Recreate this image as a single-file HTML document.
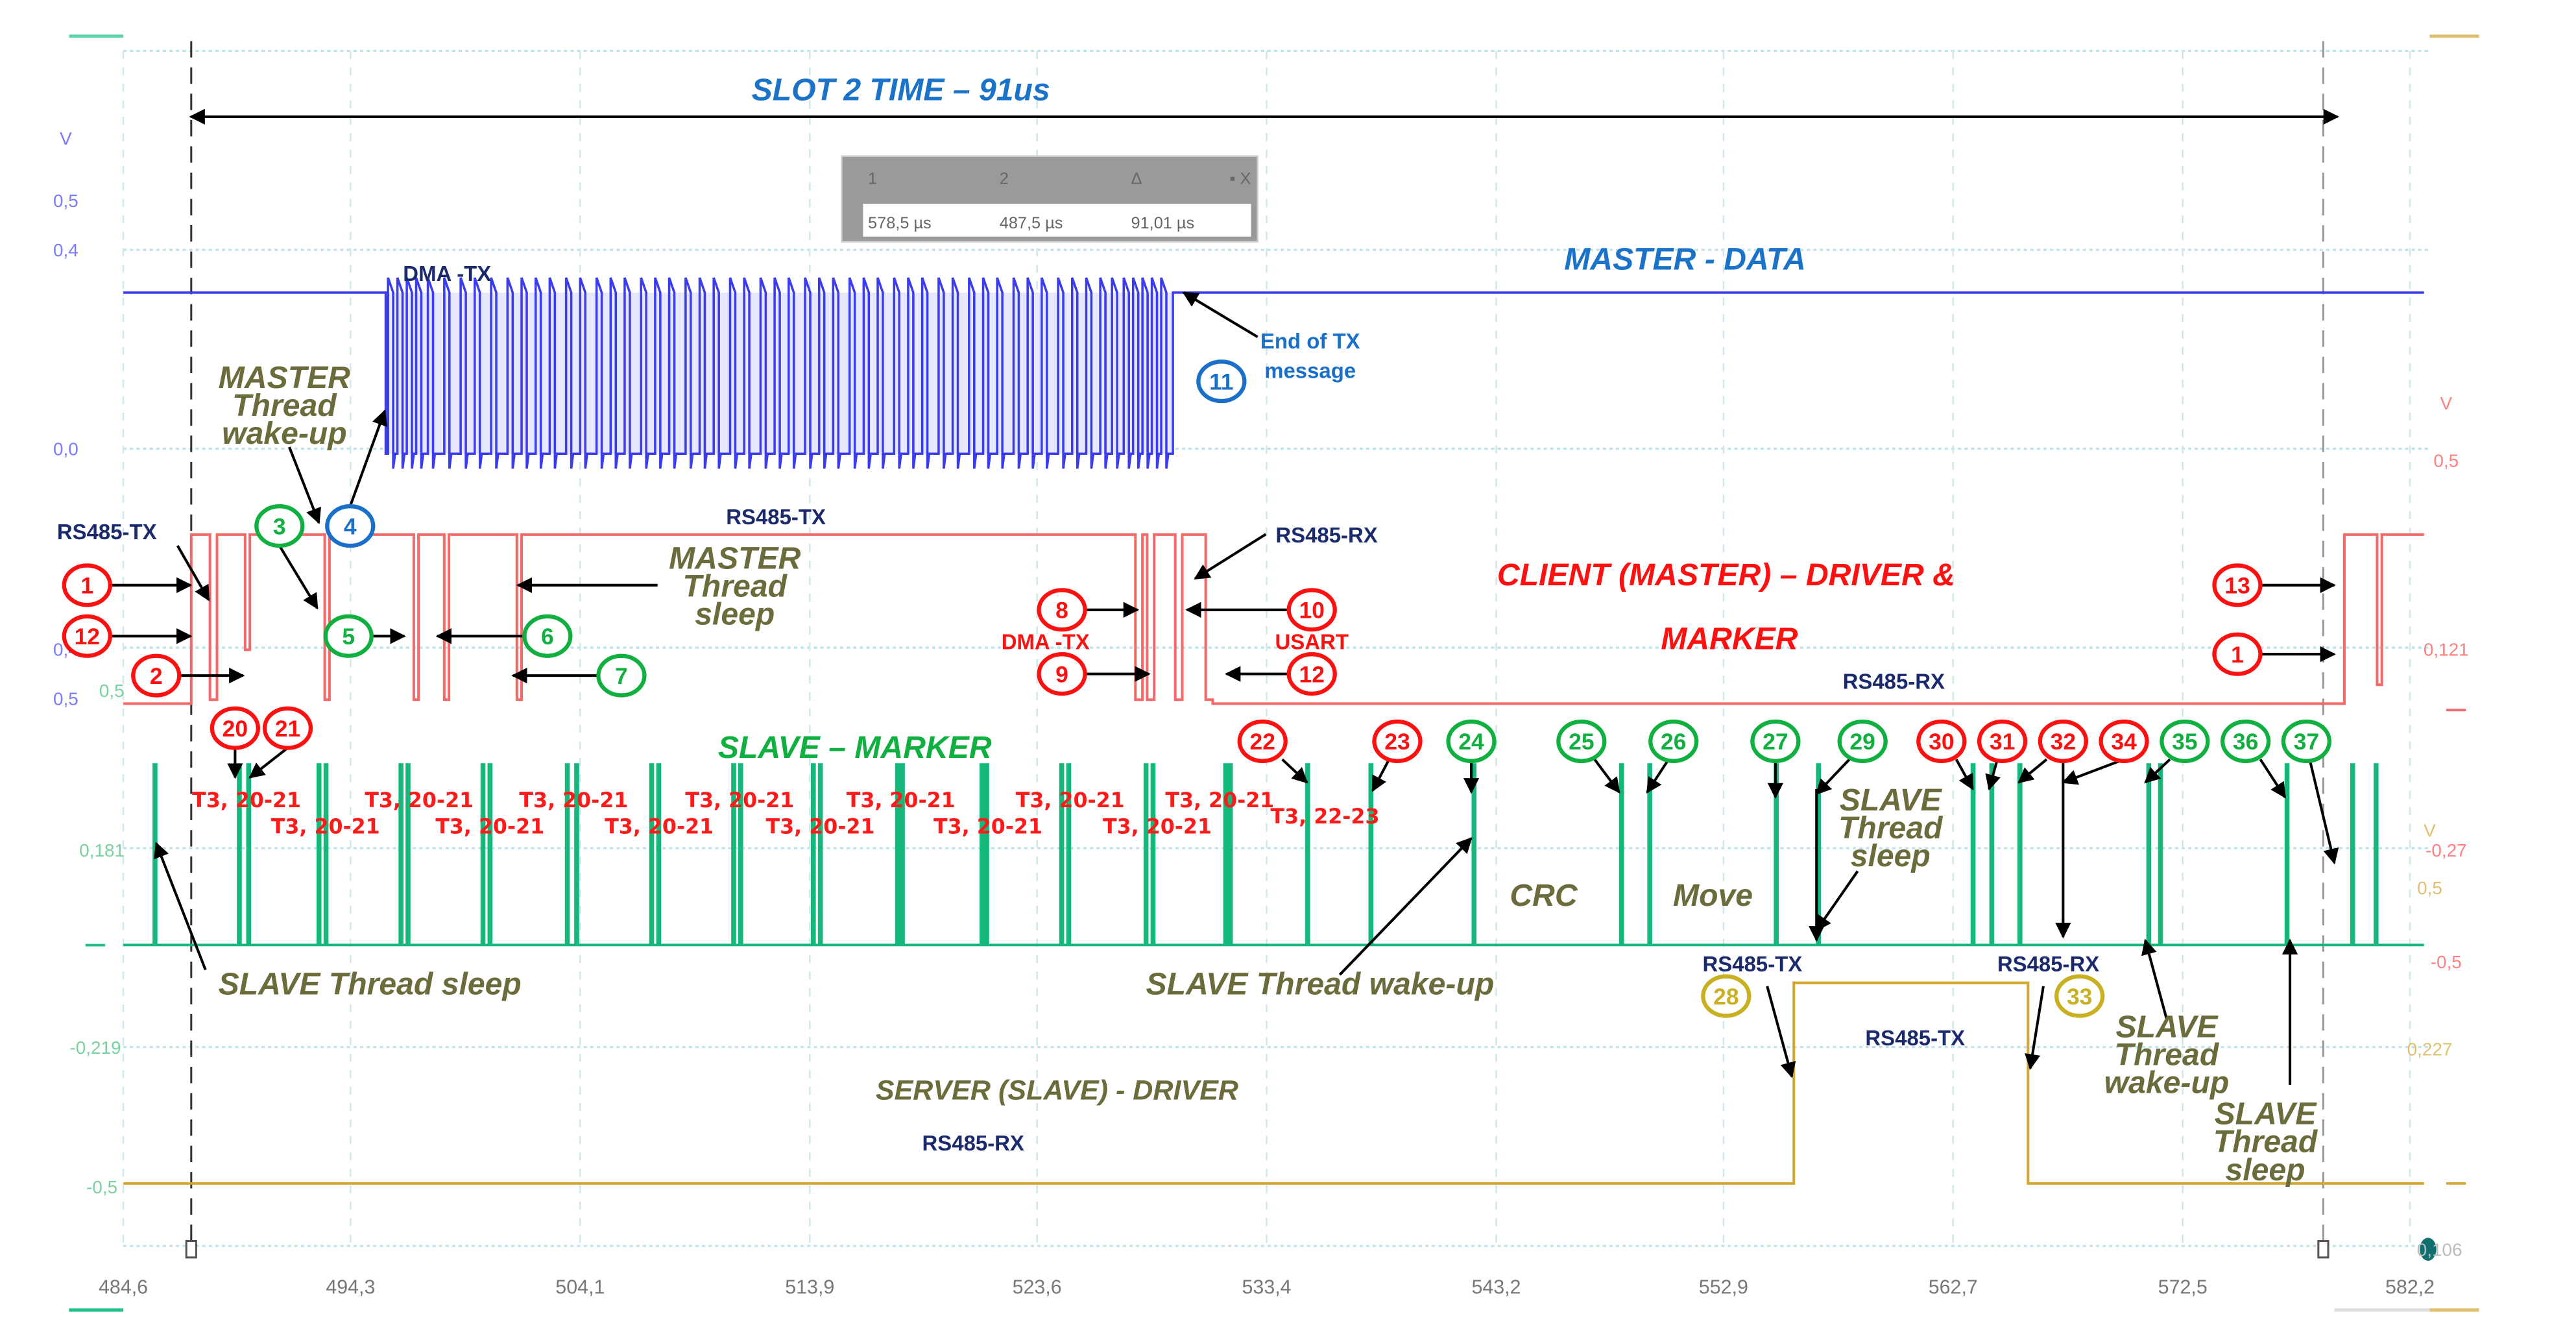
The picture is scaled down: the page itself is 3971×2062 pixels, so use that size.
<!DOCTYPE html>
<html><head><meta charset="utf-8"><style>
html,body{margin:0;padding:0;background:#fff;}
svg{display:block;}
text{font-family:"Liberation Sans",sans-serif;}
.nv{fill:#1a2a6c;font-weight:bold;font-size:13px;}
.ol{fill:#6b6b3c;font-weight:bold;font-style:italic;font-size:19px;}
.t3{fill:#ff1a1a;font-weight:bold;font-size:12.5px;font-family:"DejaVu Sans",sans-serif;}
.tk{fill:#777;font-size:12px;}
.ax{font-size:11px;}
</style></head><body>
<svg id="chart" width="3971" height="2062" viewBox="0 0 1567 814" preserveAspectRatio="none" xmlns="http://www.w3.org/2000/svg">
<defs>
<marker id="ah" viewBox="0 0 10 10" refX="9" refY="5" markerWidth="6" markerHeight="6" orient="auto-start-reverse"><path d="M0,0L10,5L0,10z" fill="#000"/></marker>
</defs>
<g id="grid"></g>
<g id="traces"></g>
<g id="ann"></g>
</svg>
<script>
// ---- data (time in microseconds, voltage in V) ----
const xTicks = [484.6, 494.3, 504.1, 513.9, 523.6, 533.4, 543.2, 552.9, 562.7, 572.5, 582.2];
const xTickLabels = ["484,6","494,3","504,1","513,9","523,6","533,4","543,2","552,9","562,7","572,5","582,2"];
const tStart = 484.6, tEnd = 585.0;
const cursor1 = 487.5, cursor2 = 578.5;
// blue MASTER DATA: high-pulse start times during DMA-TX burst
const bluePulses = [495.9,496.3,496.7,497.1,497.6,498.3,499.0,499.6,500.3,501.0,501.6,502.2,502.8,503.5,504.1,504.8,505.4,506.0,506.7,507.3,507.9,508.6,509.2,509.8,510.5,511.1,511.8,512.4,513.0,513.7,514.3,514.9,515.6,516.2,516.8,517.5,518.1,518.7,519.4,520.0,520.7,521.3,521.9,522.6,523.2,523.8,524.5,525.1,525.7,526.3,526.8,527.3,527.7,528.1,528.5,528.9];
const blueHigh = 0.314, blueLow = -0.01, burstStart = 495.8, burstEnd = 529.4;
// red CLIENT driver: [time, level] transitions
const redSteps = [[484.6,0.012],[487.5,0.351],[488.3,0.02],[488.6,0.351],[489.8,0.12],[490.0,0.351],[493.2,0.02],[493.4,0.351],[497.0,0.02],[497.2,0.351],[498.3,0.02],[498.5,0.351],[501.4,0.02],[501.6,0.351],[527.8,0.02],[528.1,0.351],[528.3,0.02],[528.6,0.351],[529.5,0.02],[529.8,0.351],[530.8,0.02],[531.1,0.012],[579.2,0.012],[579.4,0.351],[580.8,0.05],[581.0,0.351],[582.8,0.351]];
// green SLAVE marker spike times
const greenSpikes = [485.9,489.5,489.9,492.9,493.2,496.4,496.7,499.9,500.2,503.5,503.9,507.1,507.4,510.6,510.9,514.0,514.3,517.6,517.8,521.2,521.4,524.6,524.9,528.2,528.5,531.6,531.8,535.1,537.8,542.2,548.5,549.7,555.1,556.9,563.5,564.3,565.5,571.0,571.5,576.9,579.7,580.7];
const greenBase = -0.012, greenPeak = 0.354;
// gold SERVER driver transitions
const goldSteps = [[484.6,0.0],[555.8,0.0],[555.9,0.34],[565.7,0.34],[565.9,0.0],[582.8,0.0]];

// ---- scales ----
const X = t => 75 + (t - 484.6) * (1391 / 97.6);
const yBlue = v => 273 - v * (121 / 0.4);
const yRed = v => 395 - (v - 0.121) * (115 / 0.379);
const yGreen = v => 517 - (v - 0.181) * (120 / 0.4);
const yGold = v => 720 - v * (98 / 0.273);

const NS = "http://www.w3.org/2000/svg";
function mk(tag, attrs, parent, txt){const e=document.createElementNS(NS,tag);for(const k in attrs)e.setAttribute(k,attrs[k]);if(txt!==undefined)e.textContent=txt;parent.appendChild(e);return e;}
const grid=document.getElementById('grid'), tr=document.getElementById('traces'), ann=document.getElementById('ann');

// grid
[31,152,273,394,516,637,758].forEach(y=>{const l=mk('line',{x1:75,x2:1478,y1:y,y2:y,stroke:'#bfe3ea','stroke-width':1.3,'stroke-dasharray':'2,2'},grid);

});
xTicks.forEach((t,i)=>{const l=mk('line',{x1:X(t),x2:X(t),y1:31,y2:760,stroke:'#cfe9ee','stroke-width':1,'stroke-dasharray':'5,5'},grid);


const tx=mk('text',{x:X(t),y:787,'text-anchor':'middle',class:'tk'},grid,xTickLabels[i]);

});
mk('line',{x1:42,x2:75,y1:22,y2:22,stroke:'#5fd6a8','stroke-width':2},grid);
mk('line',{x1:42,x2:75,y1:797,y2:797,stroke:'#1fc08a','stroke-width':2},grid);
mk('line',{x1:1478,x2:1508,y1:22,y2:22,stroke:'#e0c070','stroke-width':2},grid);
mk('line',{x1:1420,x2:1508,y1:797,y2:797,stroke:'#ddd','stroke-width':2},grid);
mk('line',{x1:1478,x2:1508,y1:797,y2:797,stroke:'#e0c070','stroke-width':2},grid);

// cursors
const c1=mk('line',{x1:X(cursor1),x2:X(cursor1),y1:25,y2:760,stroke:'#333','stroke-width':1.2,'stroke-dasharray':'10,6'},grid);


const c2=mk('line',{x1:X(cursor2),x2:X(cursor2),y1:25,y2:760,stroke:'#999','stroke-width':1.2,'stroke-dasharray':'10,6'},grid);


mk('rect',{x:X(cursor1)-3,y:755,width:6,height:10,fill:'#fff',stroke:'#555','stroke-width':1.2},grid);
mk('rect',{x:X(cursor2)-3,y:755,width:6,height:10,fill:'#fff',stroke:'#555','stroke-width':1.2},grid);
mk('ellipse',{cx:1477,cy:760,rx:5,ry:7,fill:'#0f6f70'},grid);

// blue trace
let d=`M${X(tStart)},${yBlue(blueHigh)}L${X(burstStart)},${yBlue(blueHigh)}L${X(burstStart)},${yBlue(blueLow)}`;
bluePulses.forEach(t=>{d+=`L${X(t)},${yBlue(blueLow)}L${X(t)},${yBlue(blueHigh+0.03)}L${X(t+0.22)},${yBlue(blueHigh)}L${X(t+0.22)},${yBlue(blueLow-0.03)}L${X(t+0.3)},${yBlue(blueLow)}`;});
d+=`L${X(burstEnd)},${yBlue(blueLow)}L${X(burstEnd)},${yBlue(blueHigh)}L${X(582.8)},${yBlue(blueHigh)}`;
mk('rect',{x:X(burstStart),y:yBlue(blueHigh),width:X(burstEnd)-X(burstStart),height:yBlue(blueLow)-yBlue(blueHigh),fill:'#e6e8ff'},tr);
const pb=mk('path',{d:d,fill:'none',stroke:'#3b3bf0','stroke-width':1.4},tr);



// red trace
d='';redSteps.forEach((s,i)=>{d+=(i?`L${X(s[0])},${yRed(redSteps[i-1][1])}L`:'M')+`${X(s[0])},${yRed(s[1])}`;});
const pr=mk('path',{d:d,fill:'none',stroke:'#f46a6a','stroke-width':1.6},tr);



// green trace
d=`M${X(tStart)},${yGreen(greenBase)}`;
greenSpikes.forEach(t=>{d+=`L${X(t)},${yGreen(greenBase)}L${X(t)},${yGreen(greenPeak)}L${X(t)+1.5},${yGreen(greenPeak)}L${X(t)+1.5},${yGreen(greenBase)}`;});
d+=`L${X(582.8)},${yGreen(greenBase)}`;
const pg=mk('path',{d:d,fill:'none',stroke:'#14b87a','stroke-width':1.5},tr);



// gold trace
d='';goldSteps.forEach((s,i)=>{d+=(i?`L${X(s[0])},${yGold(goldSteps[i-1][1])}L`:'M')+`${X(s[0])},${yGold(s[1])}`;});
const pgo=mk('path',{d:d,fill:'none',stroke:'#d4a830','stroke-width':1.6},tr);



// axis labels
const axl=[[40,88,'V','#7b7bff'],[40,126,'0,5','#7b7bff'],[40,156,'0,4','#7b7bff'],[40,277,'0,0','#7b7bff'],[40,399,'0,4','#7b7bff'],[40,429,'0,5','#7b7bff'],[68,424,'0,5','#7ad0a0'],[62,521,'0,181','#7ad0a0'],[58,641,'-0,219','#7ad0a0'],[62,726,'-0,5','#7ad0a0'],
[1488,249,'V','#ff8080'],[1488,284,'0,5','#ff8080'],[1488,399,'0,121','#ff8080'],[1488,521,'-0,27','#ff8080'],[1488,589,'-0,5','#ff8080'],[1478,509,'V','#e0c070'],[1478,544,'0,5','#e0c070'],[1478,642,'0,227','#e0c070'],[1484,764,'0,106','#bbb']];
axl.forEach(a=>{const t=mk('text',{x:a[0],y:a[1],'text-anchor':'middle',fill:a[3],class:'ax'},grid,a[2]);

});
mk('line',{x1:52,x2:64,y1:575,y2:575,stroke:'#1fc08a','stroke-width':1.5},grid);
mk('line',{x1:1488,x2:1500,y1:432,y2:432,stroke:'#f46a6a','stroke-width':1.5},grid);
mk('line',{x1:1488,x2:1500,y1:720,y2:720,stroke:'#d4a830','stroke-width':1.5},grid);

// cursor box
const cb=mk('g',{},ann);


mk('rect',{x:512,y:95,width:253,height:52,fill:'#9a9a9a',stroke:'#ccc'},cb);
mk('rect',{x:525,y:124,width:236,height:20,fill:'#fff'},cb);
[['1',528,112],['2',608,112],['Δ',688,112],['578,5 µs',528,139],['487,5 µs',608,139],['91,01 µs',688,139],['▪ X',748,112]].forEach(a=>mk('text',{x:a[1],y:a[2],fill:'#666','font-size':10},cb,a[0]));

// arrows
const arrows=[[116,71,1422,71,1],[68,356,116,356],[68,387,116,387],[110,411,148,411],[227,387,246,387],[318,387,266,387],[363,411,312,411],[400,356,315,356],[661,371,692,371],[661,410,699,410],[783,371,722,371],[783,410,746,410],[1376,356,1420,356],[1376,398,1420,398],
[108,332,127,365],[170,332,193,370],[176,272,194,318],[213,308,234,250],[765,205,720,178],[770,325,727,352],[143,455,143,473],[175,455,152,473],[780,462,795,476],[845,462,835,481],[895,462,895,482],[815,593,895,510],[970,462,985,482],[1015,462,1002,482],[1080,462,1080,485],[1125,462,1105,483],[1130,530,1105,566],[1105,480,1105,572],[1190,462,1200,480],[1215,462,1210,480],[1245,462,1228,476],[1292,462,1255,476],[1255,462,1255,570],[1320,462,1305,476],[1375,462,1390,485],[1405,462,1420,525],[125,590,95,513],[1075,600,1090,655],[1243,600,1235,650],[1318,620,1305,572],[1393,660,1393,572]];
arrows.forEach(a=>{const l=mk('line',{x1:a[0],y1:a[1],x2:a[2],y2:a[3],stroke:'#000','stroke-width':1.6,'marker-end':'url(#ah)'},ann);if(a[4])l.setAttribute('marker-start','url(#ah)');

});

// circles
const R='#ff1010',G='#10b040',B='#1a6fc8',Y='#c8b020';
const circ=[['1',53,356,R],['12',53,387,R],['2',95,411,R],['20',143,443,R],['21',175,443,R],['3',170,320,G],['4',213,320,B],['5',212,387,G],['6',333,387,G],['7',378,411,G],['8',646,371,R],['9',646,410,R],['10',798,371,R],['12',798,410,R],['11',743,232,B],['13',1361,356,R],['1',1361,398,R],
['22',768,451,R],['23',850,451,R],['24',895,451,G],['25',962,451,G],['26',1018,451,G],['27',1080,451,G],['29',1133,451,G],['30',1181,451,R],['31',1218,451,R],['32',1255,451,R],['34',1292,451,R],['35',1329,451,G],['36',1366,451,G],['37',1403,451,G],['28',1050,606,Y],['33',1265,606,Y]];
circ.forEach(c=>{const g=mk('g',{},ann);


mk('ellipse',{cx:c[1],cy:c[2],rx:14,ry:12,fill:'#fff',stroke:c[3],'stroke-width':2.5},g);
mk('text',{x:c[1],y:c[2]+5,'text-anchor':'middle',fill:c[3],'font-weight':'bold','font-size':14},g,c[0]);});

// texts
const texts=[['SLOT 2 TIME – 91us',548,61,'fill:#1a73c8;font-weight:bold;font-style:italic;font-size:19px'],['MASTER - DATA',1025,164,'fill:#1a73c8;font-weight:bold;font-style:italic;font-size:19px'],
['DMA -TX',272,171,'nv'],['End of TX',797,212,'fill:#1a6fc8;font-weight:bold;font-size:13px'],['message',797,230,'fill:#1a6fc8;font-weight:bold;font-size:13px'],
['MASTER',173,236,'ol'],['Thread',173,253,'ol'],['wake-up',173,270,'ol'],['RS485-TX',65,328,'nv'],['RS485-TX',472,319,'nv'],['RS485-RX',807,330,'nv'],
['MASTER',447,346,'ol'],['Thread',447,363,'ol'],['sleep',447,380,'ol'],['DMA -TX',636,395,'fill:#ff1010;font-weight:bold;font-size:13px'],['USART',798,395,'fill:#ff1010;font-weight:bold;font-size:13px'],
['CLIENT (MASTER) – DRIVER &',1050,356,'fill:#ff1010;font-weight:bold;font-style:italic;font-size:19px'],['MARKER',1052,395,'fill:#ff1010;font-weight:bold;font-style:italic;font-size:19px'],
['RS485-RX',1152,419,'nv'],['SLAVE – MARKER',520,461,'fill:#10b040;font-weight:bold;font-style:italic;font-size:19px'],
['T3, 22-23',806,501,'t3'],['CRC',939,551,'ol'],['Move',1042,551,'ol'],['SLAVE',1150,493,'ol'],['Thread',1150,510,'ol'],['sleep',1150,527,'ol'],
['SLAVE Thread sleep',225,605,'ol'],['SLAVE Thread wake-up',803,605,'ol'],['RS485-TX',1066,591,'nv'],['RS485-RX',1246,591,'nv'],['RS485-TX',1165,636,'nv'],
['SERVER (SLAVE) - DRIVER',643,669,'fill:#6b6b3c;font-weight:bold;font-style:italic;font-size:17px'],['RS485-RX',592,700,'nv'],
['SLAVE',1318,631,'ol'],['Thread',1318,648,'ol'],['wake-up',1318,665,'ol'],['SLAVE',1378,684,'ol'],['Thread',1378,701,'ol'],['sleep',1378,718,'ol']];
[150,255,349,450,548,651,742].forEach(x=>texts.push(['T3, 20-21',x,491,'t3']));
[198,298,401,499,601,704].forEach(x=>texts.push(['T3, 20-21',x,507,'t3']));
texts.forEach(t=>{const a={x:t[1],y:t[2],'text-anchor':'middle'};if(t[3].indexOf(':')>0)a.style=t[3];else a.class=t[3];const e=mk('text',a,ann,t[0]);

});
</script>
</body></html>
